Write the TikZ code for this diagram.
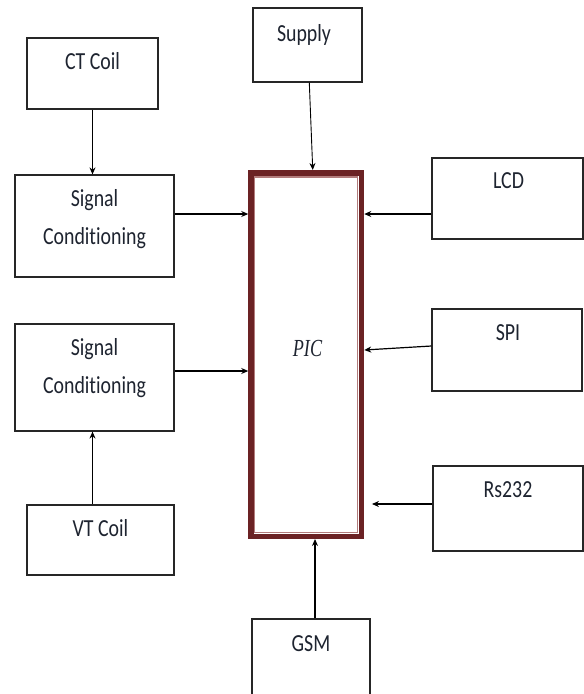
\documentclass[tikz,border=0pt]{standalone}
\usepackage{fontspec}
\setmainfont{Carlito}[FakeStretch=0.81,Ligatures=NoCommon]
\newfontfamily\picfont{Liberation Serif}[FakeStretch=0.74]
\usetikzlibrary{arrows.meta,positioning}
\definecolor{PICred}{HTML}{6B2224}
\definecolor{PICpink}{HTML}{B27C7C}
\definecolor{TXTdark}{HTML}{1E2430}

\begin{document}
\begin{tikzpicture}[x=1pt,y=-1pt,>={Stealth[length=7pt,width=6pt]},
  blk/.style={draw=black!85,line width=1.2pt,fill=white,inner sep=0pt},
  lbl/.style={anchor=base,align=center,text=TXTdark,inner sep=0pt,
    font=\fontsize{24.5}{38}\selectfont},
  arr/.style={->,line width=1.2pt}]
  \fill[white] (0,0) rectangle (584,694);
  \clip (0,0) rectangle (584,694);
  % blocks
  \node[blk,minimum width=131,minimum height=71] (ct) at (92.5,73.5) {};
  \node[blk,minimum width=109,minimum height=74] (sup) at (307.5,45) {};
  \node[blk,minimum width=159,minimum height=102] (sc1) at (94.5,226) {};
  \node[blk,minimum width=159,minimum height=107] (sc2) at (94.5,377.5) {};
  \node[blk,minimum width=147,minimum height=70] (vt) at (100.5,540) {};
  \node[blk,minimum width=151,minimum height=81] (lcd) at (507.5,198.5) {};
  \node[blk,minimum width=150,minimum height=82] (spi) at (507,350) {};
  \node[blk,minimum width=150,minimum height=85] (rs) at (508,508.5) {};
  \node[blk,minimum width=118,minimum height=101] (gsm) at (311,669.5) {};
  \node[draw=PICred,line width=5.5pt,fill=white,inner sep=0pt,
    minimum width=110.5,minimum height=363.5] (pic) at (306.25,354.5) {};
  \draw[PICpink,line width=1.2pt] ([xshift=6.5pt,yshift=-7pt]pic.north west)
    rectangle ([xshift=-6.5pt,yshift=6.5pt]pic.south east);
  % texts
  \node[lbl] (ctT) at ([yshift=-32pt]ct.north) {CT Coil};
  \node[lbl] (supT) at ([xshift=-3.5pt,yshift=-34pt]sup.north) {Supply};
  \node[lbl] (sc1T) at ([yshift=-70pt]sc1.north) {Signal\\Conditioning};
  \node[lbl] (sc2T) at ([yshift=-70pt]sc2.north) {Signal\\Conditioning};
  \node[lbl] (vtT) at ([yshift=-32pt]vt.north) {VT Coil};
  \node[lbl] (lcdT) at ([xshift=1pt,yshift=-31pt]lcd.north) {LCD};
  \node[lbl] (spiT) at ([xshift=1pt,yshift=-32pt]spi.north) {SPI};
  \node[lbl] (rsT) at ([yshift=-32pt]rs.north) {Rs232};
  \node[lbl] (gsmT) at ([yshift=-33pt]gsm.north) {GSM};
  \node[lbl,font=\picfont\itshape\fontsize{24.5}{28}\selectfont] (picT)
    at ([xshift=1.25pt,yshift=-186pt]pic.north) {PIC};
  % connectors
  \draw[arr] (ct.south) -- (ct.south |- sc1.north);
  \draw[arr] (ct.south |- vt.north) -- (ct.south |- sc2.south);
  \draw[arr] ([yshift=12pt]sc1.east) -- ([yshift=12pt]sc1.east -| pic.west);
  \draw[arr] ([yshift=6.5pt]sc2.east) -- ([yshift=6.5pt]sc2.east -| pic.west);
  \draw[->,line width=0.9pt] ([xshift=1.8pt]sup.south) -- ([xshift=6.5pt]pic.north);
  \draw[arr] ([yshift=-15.5pt]lcd.west) -- ([yshift=-15.5pt]lcd.west -| pic.east);
  \draw[arr] ([yshift=4pt]spi.west) -- (pic.east |- spi.west);
  \draw[arr,shorten >=7.7pt] ([yshift=4.5pt]rs.west) -- ([yshift=4.5pt]rs.west -| pic.east);
  \draw[arr] ([xshift=4pt]gsm.north) -- ([xshift=4pt]gsm.north |- pic.south);
\end{tikzpicture}
\end{document}
